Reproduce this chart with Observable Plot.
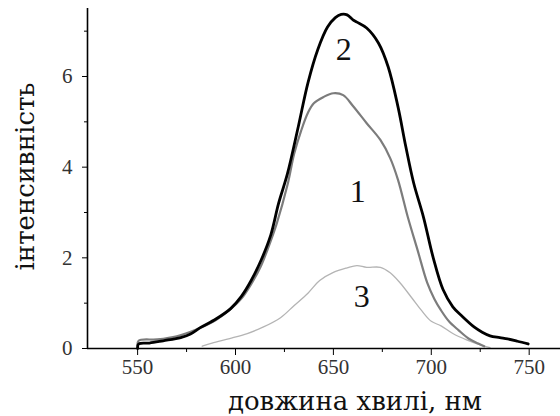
<!DOCTYPE html>
<html>
<head>
<meta charset="utf-8">
<script src="https://cdn.jsdelivr.net/npm/d3@7"></script>
<script src="https://cdn.jsdelivr.net/npm/@observablehq/plot@0.6"></script>
<style>
  html, body { margin: 0; padding: 0; background: #fff; }
  svg { display: block; }
</style>
</head>
<body>
<div id="chart"></div>
<script>
// Emission spectra, curves 1–3
const nm1 = [550, 550.5, 560, 570, 580, 590, 597, 603, 608, 613, 616.5, 621, 626.5, 630, 633.5, 637, 640, 645, 650, 655, 660, 667, 674, 679, 683, 688, 693, 698, 701.5, 705, 709, 714, 719, 724, 727];
const int1 = [0, 0.17, 0.2, 0.27, 0.42, 0.63, 0.85, 1.1, 1.42, 1.82, 2.2, 2.75, 3.6, 4.3, 4.8, 5.2, 5.41, 5.55, 5.63, 5.59, 5.35, 4.97, 4.6, 4.2, 3.72, 2.9, 2.17, 1.44, 1.1, 0.84, 0.6, 0.4, 0.22, 0.11, 0.05];

const nm2 = [550, 550.5, 556, 563, 572, 577, 582, 590, 597.5, 603, 608, 613, 618, 622, 626.5, 632, 637, 642, 647, 651, 654, 657, 660, 662, 667, 673, 678, 683, 687, 691, 696, 701, 706, 711, 716, 722, 726, 730, 735, 739, 744, 749.5];
const int2 = [0, 0.1, 0.12, 0.17, 0.24, 0.32, 0.46, 0.65, 0.88, 1.15, 1.5, 1.94, 2.5, 3.2, 3.85, 4.88, 5.86, 6.59, 7.09, 7.3, 7.37, 7.36, 7.25, 7.2, 7.07, 6.74, 6.21, 5.33, 4.45, 3.65, 2.9, 2.0, 1.3, 0.92, 0.7, 0.47, 0.36, 0.28, 0.24, 0.21, 0.16, 0.1];

const nm3 = [583, 588, 597, 606, 614, 623, 630, 637, 643, 650, 657, 662, 667, 674, 679, 684, 690, 695, 700, 705, 711, 718, 725, 730];
const int3 = [0.05, 0.12, 0.22, 0.33, 0.47, 0.68, 0.95, 1.22, 1.5, 1.68, 1.78, 1.83, 1.79, 1.79, 1.67, 1.45, 1.12, 0.84, 0.6, 0.5, 0.33, 0.19, 0.08, 0.02];

// Curve numbers and where they sit
const curveLabels = ["1", "2", "3"];
const curveLabelX = [662.4, 655.3, 664.5];
const curveLabelY = [3.45, 6.59, 1.15];

// Axis ticks and titles
const xTicks = [550, 600, 650, 700, 750];
const xMinorTicks = [575, 625, 675, 725];
const yTicks = [0, 2, 4, 6];
const yMinorTicks = [1, 3, 5, 7];
const xTitle = "довжина хвилі, нм";
const yTitle = "інтенсивність";

const toRows = (xs, ys) => xs.map((x, i) => ({x, y: ys[i]}));
const s1 = toRows(nm1, int1);
const s2 = toRows(nm2, int2);
const s3 = toRows(nm3, int3);
const labelRows = curveLabels.map((t, i) => ({t, x: curveLabelX[i], y: curveLabelY[i]}));

const serif = "Liberation Serif";
const wideSerif = "DejaVu Serif";

const chart = Plot.plot({
  width: 560,
  height: 416,
  marginLeft: 87,
  marginRight: 0,
  marginTop: 8,
  marginBottom: 68,
  style: {fontFamily: serif, background: "#fff", color: "#222"},
  x: {domain: [524.4, 766]},
  y: {domain: [0, 7.5]},
  marks: [
    Plot.line(s3, {x: "x", y: "y", stroke: "#b4b4b4", strokeWidth: 1.3, curve: "catmull-rom"}),
    Plot.line(s1, {x: "x", y: "y", stroke: "#7c7c7c", strokeWidth: 2.2, curve: "catmull-rom"}),
    Plot.line(s2, {x: "x", y: "y", stroke: "#000", strokeWidth: 2.8, curve: "catmull-rom"}),
    Plot.ruleY([0], {stroke: "#000", strokeWidth: 1.6}),
    Plot.ruleX([524.4], {stroke: "#000", strokeWidth: 1.6}),
    Plot.axisX({ticks: xTicks, tickSize: 7, tickPadding: 4, tickFormat: d => String(d), fontSize: 21, fontFamily: serif, fill: "#333", stroke: "#000", label: null}),
    Plot.axisX({ticks: xMinorTicks, tickSize: 4, text: null, stroke: "#000", label: null}),
    Plot.axisY({ticks: yTicks, tickSize: 5, tickPadding: 10, tickFormat: d => String(d), fontSize: 21, fontFamily: serif, fill: "#333", stroke: "#000", label: null}),
    Plot.axisY({ticks: yMinorTicks, tickSize: 3, text: null, stroke: "#000", label: null}),
    Plot.text(labelRows, {x: "x", y: "y", text: "t", fontSize: 32, fill: "#111", fontFamily: serif}),
    Plot.text([xTitle], {frameAnchor: "bottom", textAnchor: "middle", lineAnchor: "middle", dx: 31, dy: 53, text: d => d, fontSize: 26, fill: "#111", fontFamily: wideSerif}),
    Plot.text([yTitle], {frameAnchor: "left", textAnchor: "middle", lineAnchor: "middle", dx: -61.5, dy: -2, rotate: -90, text: d => d, fontSize: 26, fill: "#111", fontFamily: wideSerif})
  ]
});
document.getElementById("chart").appendChild(chart);
</script>
</body>
</html>
